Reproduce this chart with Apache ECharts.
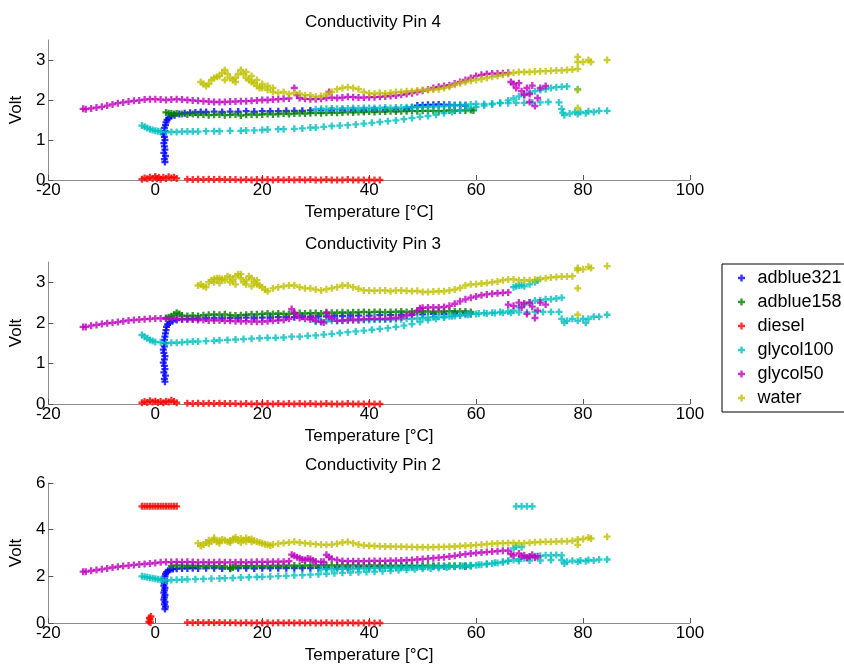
<!DOCTYPE html>
<html>
<head>
<meta charset="utf-8">
<script src="https://cdn.jsdelivr.net/npm/echarts@6/dist/echarts.min.js"></script>
<style>
html,body{margin:0;padding:0;background:#fff;}
#c{width:844px;height:666px;}
</style>
</head>
<body>
<div id="c"></div>
<script>
// ---------- data (temperature °C, volt) ----------
const seriesNames = ['adblue321','adblue158','diesel','glycol100','glycol50','water'];
const titles = ['Conductivity Pin 4','Conductivity Pin 3','Conductivity Pin 2'];
const xTickMin = -20, xTickMax = 100, xTickStep = 20;
const yMaxes = [3.5, 3.5, 6];
const ySteps = [1, 1, 2];

// Pin 4
const pin4_adblue321 = [[1.8,0.45],[1.7,0.52],[1.9,0.6],[1.6,0.68],[1.8,0.76],[1.7,0.84],[1.6,0.92],[1.8,1.0],[1.7,1.08],[1.5,1.15],[1.8,1.22],[1.7,1.3],[1.9,1.37],[2.0,1.44],[2.2,1.5],[2.5,1.55],[3.0,1.6],[3.6,1.62],[4.5,1.65],[5.5,1.67],[6.5,1.68],[7.5,1.69],[8.5,1.7],[9.5,1.7],[11,1.71],[12.5,1.7],[14,1.71],[15.5,1.71],[17,1.72],[18.5,1.71],[20,1.72],[21.5,1.72],[23,1.72],[24.5,1.73],[26,1.73],[27.5,1.73],[29,1.74],[31,1.74],[33,1.74],[35,1.75],[37,1.75],[39,1.75],[41,1.76],[43,1.76],[45,1.77],[47,1.78],[48,1.82],[49,1.86],[50,1.87],[51,1.88],[52,1.88],[53,1.89],[54,1.88],[55,1.88],[56,1.87],[57,1.87],[58,1.86]];
const pin4_adblue158 = [[2,1.69],[2.5,1.67],[3,1.66],[3.5,1.65],[4,1.66],[5,1.65],[6,1.64],[7,1.65],[8,1.63],[9,1.64],[10,1.62],[11,1.63],[12,1.64],[13,1.62],[14,1.63],[15,1.64],[16,1.61],[17,1.63],[18,1.64],[19,1.63],[20,1.64],[21,1.65],[22,1.64],[23,1.65],[24,1.66],[25,1.65],[26,1.66],[27,1.67],[28,1.66],[29,1.67],[30,1.68],[31,1.67],[32,1.68],[33,1.69],[34,1.68],[35,1.69],[36,1.7],[37,1.69],[38,1.7],[39,1.7],[40,1.71],[41,1.7],[42,1.71],[43,1.71],[44,1.72],[45,1.71],[46,1.72],[47,1.72],[48,1.73],[49,1.72],[50,1.73],[51,1.73],[52,1.73],[53,1.72],[54,1.73],[55,1.74],[56,1.73],[57,1.74],[58,1.74],[59,1.75],[59.5,1.74]];
const pin4_diesel = [[-2.5,0.02],[-2,0.05],[-1.5,0.03],[-1,0.07],[-0.5,0.04],[0,0.09],[0.3,0.03],[0.7,0.06],[1,0.02],[1.5,0.07],[2,0.04],[2.5,0.08],[3,0.05],[3.5,0.07],[4,0.04],[6,0.02],[7,0.01],[8,0.02],[9,0.01],[10,0.02],[11,0.01],[12,0.02],[13,0.01],[14,0.01],[15,0.01],[16,0],[17,0.01],[18,0],[19,0.01],[20,0],[21,0.01],[22,0],[23,0.01],[24,0],[25,0.01],[26,0],[27,0.01],[28,0],[29,0.01],[30,0],[31,0],[32,0.01],[33,0],[34,0],[35,0],[36,0.01],[37,0],[38,0],[39,0],[40,0],[41,0],[42,0]];
const pin4_glycol100 = [[-2.5,1.36],[-2,1.33],[-1.5,1.3],[-1,1.27],[-0.5,1.25],[0,1.23],[0.5,1.22],[1,1.21],[2,1.2],[3,1.2],[4,1.2],[5,1.21],[6,1.21],[7,1.21],[8,1.21],[9.5,1.22],[11,1.22],[12,1.22],[14,1.23],[16,1.23],[17,1.24],[18.5,1.24],[20,1.25],[21,1.26],[23,1.27],[24,1.27],[26,1.28],[27.5,1.29],[29,1.31],[30,1.31],[31.5,1.33],[33,1.35],[34.5,1.36],[36,1.37],[37.5,1.39],[39,1.41],[40.5,1.43],[42,1.45],[43.5,1.47],[45,1.49],[46.5,1.52],[48,1.55],[49.5,1.58],[51,1.6],[52.5,1.63],[54,1.67],[55.5,1.7],[57,1.74],[58.5,1.78],[60,1.82],[61.5,1.86],[63,1.89],[64.5,1.93],[66,1.99],[67,2.04],[68,2.09],[69,2.14],[70,2.18],[71,2.22],[72,2.25],[73,2.27],[74,2.3],[75,2.32],[76,2.33],[77,2.34],[79,2.27],
  [30,1.77],[31,1.78],[32,1.78],[33,1.79],[34,1.78],[35,1.79],[36,1.79],[37,1.8],[38,1.79],[39,1.8],[40,1.8],[41,1.8],[42,1.8],[43,1.81],[44,1.8],[45,1.81],[46,1.81],[47,1.82],[48,1.82],[49,1.82],[50,1.83],[51,1.83],[52,1.84],[53,1.84],[54,1.85],[55,1.86],[56,1.87],[57,1.88],[58,1.88],[59,1.89],[60,1.9],[61.5,1.9],[63,1.91],[64.5,1.92],[66,1.92],[67.5,1.93],[69,1.93],[70.5,1.94],[72,1.94],[73.5,1.95],[75.5,1.94],[76,1.78],[76.2,1.68],[76.5,1.62],[77.5,1.66],[78.5,1.7],[79,1.65],[79.5,1.7],[80.5,1.67],[81,1.72],[82,1.7],[83,1.73],[84.5,1.73]];
const pin4_glycol50 = [[-13.5,1.78],[-13,1.77],[-12,1.79],[-11,1.81],[-10,1.83],[-9,1.86],[-8,1.89],[-7,1.92],[-6,1.94],[-5,1.96],[-4,1.98],[-3,1.99],[-2,2.01],[-1,2.02],[0,2.02],[1,2.01],[2,2.0],[3,2.01],[4,2.02],[5,2.01],[6,2.0],[7,1.99],[8,1.98],[9,1.97],[10,1.96],[11,1.95],[12,1.95],[13,1.95],[14,1.96],[15,1.96],[16,1.97],[17,1.97],[18,1.98],[19,1.99],[20,2.0],[21,2.0],[22,2.01],[23,2.02],[24,2.03],[25,2.04],[26,2.3],[26.5,2.12],[27,2.05],[28,2.03],[29,2.02],[30,2.02],[31,2.03],[32,2.05],[32.5,2.2],[33,2.06],[34,2.05],[35,2.06],[36,2.08],[37,2.07],[38,2.06],[39,2.06],[40,2.07],[41,2.07],[42,2.08],[43,2.09],[44,2.1],[45,2.11],[46,2.13],[47,2.15],[48,2.17],[49,2.2],[50,2.23],[51,2.26],[52,2.3],[53,2.33],[54,2.35],[55,2.37],[56,2.41],[57,2.45],[58,2.5],[59,2.55],[60,2.6],[61,2.63],[62,2.65],[63,2.66],[64,2.66],[65,2.67],[66,2.68],[66.5,2.45],[67,2.4],[67.5,2.3],[68,2.42],[68.5,2.22],[69,2.12],[69.5,2.3],[70,1.95],[70,2.15],[70.5,2.36],[71,1.85],[71.5,2.05],[72,2.3],[73,2.35]];
const pin4_water = [[8.5,2.45],[9,2.4],[9.5,2.35],[10,2.4],[10.5,2.5],[11,2.55],[11.5,2.58],[12,2.6],[12.5,2.68],[13,2.75],[13.5,2.65],[14,2.55],[14.5,2.5],[15,2.55],[15.5,2.65],[16,2.75],[16.5,2.65],[17,2.55],[17.5,2.5],[18,2.45],[18.5,2.42],[19,2.35],[19.5,2.3],[20,2.3],[21,2.25],[22,2.2],[23,2.18],[24,2.2],[25,2.15],[26,2.18],[27,2.16],[28,2.12],[29,2.12],[30,2.08],[31,2.1],[32,2.15],[33,2.2],[34,2.27],[35,2.3],[36,2.32],[37,2.3],[38,2.27],[39,2.2],[40,2.17],[41,2.16],[42,2.18],[43,2.16],[44,2.18],[45,2.2],[46,2.2],[47,2.22],[48,2.22],[49,2.24],[50,2.25],[51,2.25],[52,2.26],[53,2.27],[54,2.3],[55,2.33],[56,2.38],[57,2.42],[58,2.45],[59,2.48],[60,2.5],[61,2.52],[62,2.55],[63,2.58],[64,2.6],[65,2.63],[66,2.65],[67,2.68],[68,2.7],[69,2.7],[70,2.7],[71,2.71],[72,2.72],[73,2.72],[74,2.73],[75,2.74],[76,2.74],[77,2.75],[78,2.76],[79,2.78],[79,2.95],[79,3.08],[79,2.25],[79,1.8],[80,2.95],[81,3.0],[81.5,2.95],[84.5,3.0],
  [13,2.5],[15,2.45],[17,2.7],[18,2.6],[19,2.5],[20,2.4],[21,2.35],[22,2.3]];

// Pin 3
const pin3_adblue321 = [[1.8,0.55],[1.7,0.62],[1.9,0.7],[1.6,0.78],[1.8,0.86],[1.7,0.94],[1.5,1.02],[1.7,1.1],[1.8,1.18],[1.6,1.26],[1.5,1.34],[1.7,1.42],[1.8,1.5],[1.7,1.58],[1.8,1.66],[1.9,1.74],[2.0,1.82],[2.1,1.9],[2.3,1.96],[2.7,2.01],[3.2,2.04],[4,2.07],[5,2.09],[6,2.1],[7,2.1],[8,2.11],[9.5,2.11],[11,2.12],[12.5,2.11],[14,2.12],[15.5,2.12],[17,2.13],[18.5,2.12],[20,2.13],[21.5,2.13],[23,2.14],[24.5,2.14],[26,2.14],[27.5,2.15],[29,2.15],[30.5,2.16],[32,2.16],[33.5,2.17],[35,2.17],[36.5,2.18],[38,2.18],[40,2.18],[42,2.19],[44,2.19],[46,2.2],[48,2.2],[50,2.21],[52,2.22],[54,2.22],[56,2.23],[58,2.23],[59,2.22]];
const pin3_adblue158 = [[2,2.12],[2.5,2.14],[3,2.16],[3.5,2.2],[4,2.25],[4.5,2.22],[5,2.18],[6,2.17],[7,2.18],[8,2.17],[9,2.19],[10,2.2],[11,2.21],[12,2.2],[13,2.21],[14,2.19],[15,2.18],[16,2.19],[17,2.2],[18,2.21],[19,2.21],[20,2.22],[21,2.23],[22,2.22],[23,2.23],[24,2.22],[25,2.22],[26,2.23],[27,2.24],[28,2.23],[29,2.24],[30,2.24],[31,2.23],[32,2.24],[33,2.25],[34,2.25],[35,2.26],[36,2.25],[37,2.26],[38,2.26],[39,2.27],[40,2.26],[41,2.27],[42,2.27],[43,2.26],[44,2.27],[45,2.27],[46,2.28],[47,2.27],[48,2.28],[49,2.27],[50,2.28],[51,2.28],[52,2.27],[53,2.28],[54,2.28],[55,2.29],[56,2.28],[57,2.28],[58,2.28],[59,2.27]];
const pin3_diesel = [[-2.5,0.03],[-2,0.06],[-1.5,0.04],[-1,0.08],[-0.5,0.05],[0,0.07],[0.5,0.04],[1,0.06],[1.5,0.03],[2,0.07],[2.5,0.05],[3,0.09],[3.5,0.06],[4,0.03],[6,0.02],[7,0.01],[8,0.02],[9,0.01],[10,0.02],[11,0.01],[12,0.02],[13,0.01],[14,0.01],[15,0.01],[16,0],[17,0.01],[18,0],[19,0.01],[20,0],[21,0.01],[22,0],[23,0.01],[24,0],[25,0.01],[26,0],[27,0.01],[28,0],[29,0.01],[30,0],[31,0],[32,0.01],[33,0],[34,0],[35,0],[36,0.01],[37,0],[38,0],[39,0],[40,0],[41,0],[42,0]];
const pin3_glycol100 = [[-2.5,1.7],[-2,1.66],[-1.5,1.62],[-1,1.58],[-0.5,1.55],[0,1.53],[1,1.52],[2,1.5],[3,1.51],[4,1.51],[5,1.52],[6,1.53],[7,1.54],[8,1.54],[9.5,1.55],[11,1.56],[12,1.57],[13.5,1.58],[15,1.59],[16.5,1.6],[18,1.61],[19.5,1.62],[21,1.63],[22.5,1.63],[24,1.64],[25.5,1.66],[27,1.66],[28.5,1.68],[30,1.69],[31.5,1.71],[33,1.73],[34.5,1.75],[36,1.77],[37.5,1.79],[39,1.81],[40.5,1.83],[42,1.85],[43.5,1.87],[45,1.9],[46.5,1.93],[48,1.97],[49.5,2.02],[51,2.07],[52.5,2.1],[54,2.13],[55.5,2.16],[57,2.18],[58.5,2.2],[60,2.22],[61.5,2.24],[63,2.25],[64.5,2.27],[66,2.28],[67,2.3],[68,2.38],[69,2.45],[70,2.5],[71,2.55],[72,2.56],[73,2.58],[74,2.58],[75,2.6],[76,2.62],
  [30,2.03],[31,2.04],[32,2.04],[33,2.05],[34,2.05],[35,2.05],[36,2.06],[37,2.06],[38,2.06],[39,2.07],[40,2.07],[41,2.08],[42,2.08],[43,2.08],[44,2.08],[45,2.09],[46,2.09],[47,2.1],[48,2.1],[49,2.11],[50,2.12],[51,2.13],[52,2.14],[53,2.15],[54,2.15],[55,2.16],[56,2.17],[57,2.19],[58,2.2],[59,2.22],[60.5,2.23],[62,2.23],[63.5,2.24],[65,2.25],[66.5,2.25],[68,2.26],[69.5,2.26],[71,2.27],[72.5,2.27],[74,2.27],[75.5,2.27],[76,2.1],[76.5,2.0],[77,2.05],[78,2.1],[79,2.05],[80,2.1],[80.5,2.0],[81,2.1],[82,2.15],[83,2.15],[84.5,2.2],
  [67,2.88],[67.5,2.9],[68,2.92],[68.5,2.93],[69,2.9],[70,2.95],[71,3.0],[71.5,3.05]];
const pin3_glycol50 = [[-13.5,1.9],[-13,1.9],[-12,1.93],[-11,1.95],[-10,1.97],[-9,1.99],[-8,2.0],[-7,2.02],[-6,2.04],[-5,2.06],[-4,2.07],[-3,2.08],[-2,2.09],[-1,2.1],[0,2.11],[1,2.11],[2,2.1],[3,2.1],[4,2.1],[5,2.09],[6,2.08],[7,2.08],[8,2.07],[9,2.07],[10,2.06],[11,2.06],[12,2.06],[13,2.05],[14,2.05],[15,2.04],[16,2.04],[17,2.04],[18,2.03],[19,2.03],[20,2.03],[21,2.04],[22,2.05],[23,2.06],[24,2.07],[25,2.1],[25.5,2.34],[26,2.25],[26.5,2.18],[27,2.12],[28,2.1],[29,2.08],[29.5,2.12],[30,2.05],[31,2.02],[31.5,2.01],[32,2.26],[32.5,2.15],[33,2.1],[34,2.05],[35,2.06],[36,2.07],[37,2.08],[38,2.08],[39,2.09],[40,2.1],[41,2.1],[42,2.1],[43,2.1],[44,2.11],[45,2.12],[46,2.14],[47,2.18],[48,2.22],[49,2.3],[49.5,2.36],[50,2.37],[51,2.38],[52,2.38],[53,2.38],[54,2.39],[55,2.42],[56,2.47],[57,2.53],[58,2.58],[59,2.62],[60,2.65],[61,2.68],[62,2.7],[63,2.72],[64,2.73],[65,2.74],[66,2.75],[66,2.45],[67,2.42],[68,2.5],[68.5,2.38],[69,2.48],[69.5,2.22],[70,2.5],[70.5,2.4],[71,2.12],[71.5,2.3],[72,2.5],[73,2.45]];
const pin3_water = [[8,2.92],[8.5,2.95],[9,2.9],[9.5,2.88],[10,3.0],[10.5,3.05],[11,3.08],[11.5,3.1],[12,3.1],[12.5,3.08],[13,3.05],[13.5,3.15],[14,3.12],[14.5,3.05],[15,3.15],[15.5,3.2],[16,3.1],[16.5,3.0],[17,3.05],[17.5,3.15],[18,3.1],[18.5,3.0],[19,2.95],[19.5,2.92],[20,2.88],[20.5,2.82],[21,2.78],[22,2.85],[23,2.88],[24,2.9],[25,2.92],[26,2.92],[27,2.88],[28,2.85],[29,2.85],[30,2.82],[31,2.8],[32,2.83],[33,2.85],[34,2.88],[35,2.92],[36,2.92],[37,2.88],[38,2.84],[39,2.8],[40,2.8],[41,2.79],[42,2.8],[43,2.8],[44,2.78],[45,2.8],[46,2.8],[47,2.79],[48,2.78],[49,2.79],[50,2.76],[51,2.76],[52,2.77],[53,2.78],[54,2.78],[55,2.8],[56,2.82],[57,2.86],[58,2.92],[59,2.95],[60,2.95],[61,2.97],[62,2.98],[63,3.0],[64,3.02],[65,3.05],[66,3.07],[67,3.07],[68,3.05],[69,3.05],[70,3.05],[71,3.06],[72,3.08],[73,3.1],[74,3.12],[75,3.13],[76,3.14],[77,3.14],[78,3.15],[79,3.3],[79,3.35],[79,2.85],[79,2.2],[80,3.32],[81,3.38],[81.5,3.35],[84.5,3.4],
  [11,3.0],[12,2.98],[14,3.0],[15,2.95],[16,3.2],[17,2.95],[18,2.9],[19,3.05]];

// Pin 2
const pin2_adblue321 = [[1.8,0.6],[1.9,0.7],[1.7,0.8],[1.8,0.9],[1.6,1.0],[1.7,1.1],[1.8,1.2],[1.6,1.3],[1.7,1.4],[1.8,1.5],[1.6,1.6],[1.7,1.7],[1.8,1.8],[1.7,1.9],[1.8,2.0],[1.9,2.1],[2.1,2.18],[2.4,2.24],[2.8,2.28],[3.3,2.31],[4,2.33],[5,2.34],[6,2.34],[7,2.35],[8,2.34],[9.5,2.35],[11,2.35],[12.5,2.34],[14,2.35],[15.5,2.35],[17,2.35],[18.5,2.34],[20,2.35],[21.5,2.35],[23,2.35],[24.5,2.35],[26,2.35],[27.5,2.35],[29,2.35],[30.5,2.36],[32,2.37],[34,2.38],[36,2.38],[38,2.39],[40,2.39],[42,2.4],[44,2.4],[46,2.41],[48,2.41],[50,2.42],[52,2.42],[54,2.42],[56,2.43],[58,2.43]];
const pin2_adblue158 = [[3,2.45],[4,2.47],[5,2.46],[6,2.45],[7,2.46],[8,2.45],[9,2.44],[10,2.45],[11,2.44],[12,2.43],[13,2.42],[14,2.32],[14.5,2.38],[15,2.43],[16,2.45],[17,2.44],[18,2.45],[19,2.44],[20,2.45],[21,2.44],[22,2.45],[23,2.46],[24,2.45],[25,2.46],[26,2.46],[27,2.45],[28,2.46],[29,2.47],[30,2.46],[31,2.47],[32,2.46],[33,2.47],[34,2.46],[35,2.47],[36,2.46],[37,2.47],[38,2.46],[39,2.46],[40,2.47],[41,2.46],[42,2.46],[43,2.46],[44,2.45],[45,2.46],[46,2.45],[47,2.46],[48,2.45],[49,2.45],[50,2.45],[51,2.46],[52,2.45],[53,2.45],[54,2.44],[55,2.45],[56,2.44],[57,2.45],[58,2.44],[59,2.44]];
const pin2_diesel = [[-2.5,5.0],[-2,5.0],[-1.5,5.0],[-1,5.0],[-0.5,5.0],[0,5.0],[0.5,5.0],[1,5.0],[1.5,5.0],[2,5.0],[2.5,5.0],[3,5.0],[3.5,5.0],[4,5.0],[-1.2,0.05],[-1,0.15],[-0.8,0.28],[-1.1,0.22],[-0.9,0.02],[6,0.02],[7,0.01],[8,0.02],[9,0.01],[10,0.02],[11,0.01],[12,0.02],[13,0.01],[14,0.01],[15,0.01],[16,0],[17,0.01],[18,0],[19,0.01],[20,0],[21,0.01],[22,0],[23,0.01],[24,0],[25,0.01],[26,0],[27,0.01],[28,0],[29,0.01],[30,0],[31,0],[32,0.01],[33,0],[34,0],[35,0],[36,0.01],[37,0],[38,0],[39,0],[40,0],[41,0],[42,0]];
const pin2_glycol100 = [[-2.5,2.0],[-2,1.98],[-1.5,1.96],[-1,1.94],[-0.5,1.92],[0,1.9],[0.5,1.87],[1,1.85],[1.5,1.83],[2,1.82],[3,1.84],[4,1.85],[5,1.86],[6,1.87],[7.5,1.88],[9,1.89],[10.5,1.9],[12,1.91],[13,1.92],[14.5,1.93],[16,1.95],[17.5,1.96],[19,1.97],[20,1.98],[21.5,1.99],[23,2.01],[24.5,2.02],[26,2.04],[27.5,2.05],[29,2.07],[30.5,2.09],[32,2.11],[33.5,2.13],[35,2.15],[36.5,2.16],[38,2.17],[39.5,2.19],[41,2.2],[42.5,2.22],[44,2.24],[45.5,2.26],[47,2.28],[48.5,2.3],[50,2.32],[51.5,2.34],[53,2.36],[54.5,2.38],[56,2.41],[57.5,2.44],[59,2.47],[60.5,2.5],[62,2.54],[63.5,2.58],[65,2.62],[66,2.66],[67,2.7],[68,2.74],[69,2.78],[70,2.82],[71,2.86],[72,2.88],[73,2.9],[74,2.9],[75,2.91],[76,2.9],[76.5,2.55],[77,2.62],[78,2.67],[79,2.62],[79.5,2.68],[80.5,2.65],[81,2.7],[82,2.68],[83,2.72],[84.5,2.72],
  [31,2.3],[32,2.31],[33,2.31],[34,2.32],[35,2.32],[36,2.33],[37,2.33],[38,2.34],[39,2.34],[40,2.35],[41,2.35],[42,2.36],[43,2.36],[44,2.37],[45,2.37],[46,2.38],[47,2.38],[48,2.39],[49,2.39],[50,2.4],[51,2.4],[52,2.41],[53,2.41],[54,2.42],[55,2.42],[56,2.43],[57,2.44],[58,2.45],[59,2.46],[60,2.48],[61,2.5],[62,2.52],[63,2.55],[64,2.57],[65,2.6],[66,2.66],[68,2.66],[70,2.68],[72,2.68],[74,2.7],[76,2.7],
  [67,3.2],[67.5,3.28],[68.5,3.25],[67.5,5.0],[68.5,5.0],[69.5,5.0],[70.5,5.0]];
const pin2_glycol50 = [[-13.5,2.2],[-13,2.2],[-12,2.24],[-11,2.27],[-10,2.3],[-9,2.34],[-8,2.38],[-7,2.41],[-6,2.44],[-5,2.46],[-4,2.49],[-3,2.51],[-2,2.53],[-1,2.55],[0,2.57],[1,2.6],[2,2.61],[3,2.61],[4,2.62],[5,2.61],[6,2.62],[7,2.61],[8,2.6],[9,2.61],[10,2.6],[11,2.6],[12,2.61],[13,2.6],[14,2.6],[15,2.6],[16,2.61],[17,2.6],[18,2.61],[19,2.62],[20,2.62],[21,2.62],[22,2.63],[23,2.63],[24,2.63],[25,2.65],[25.5,2.93],[26,2.88],[26.5,2.82],[27,2.78],[27.5,2.72],[28,2.7],[28.5,2.76],[29,2.74],[29.5,2.68],[30,2.64],[31,2.62],[31.5,2.62],[32,2.92],[32.5,2.82],[33,2.75],[34,2.7],[35,2.66],[36,2.65],[37,2.65],[38,2.65],[39,2.65],[40,2.66],[41,2.66],[42,2.66],[43,2.66],[44,2.67],[45,2.67],[46,2.68],[47,2.69],[48,2.7],[49,2.72],[50,2.74],[51,2.76],[52,2.78],[53,2.8],[54,2.82],[55,2.85],[56,2.88],[57,2.92],[58,2.95],[59,2.98],[60,3.0],[61,3.02],[62,3.04],[63,3.06],[64,3.08],[65,3.1],[66,3.1],[66.5,2.95],[67,2.9],[68,2.98],[68.5,2.85],[69,2.9],[69.5,2.8],[70,2.85],[70.5,2.92],[71,2.8],[71.5,2.86]];
const pin2_water = [[8,3.42],[8.5,3.3],[9,3.36],[9.5,3.45],[10,3.55],[10.5,3.5],[11,3.56],[11.5,3.48],[12,3.52],[12.5,3.58],[13,3.55],[13.5,3.48],[14,3.54],[14.5,3.6],[15,3.58],[15.5,3.52],[16,3.62],[16.5,3.56],[17,3.64],[17.5,3.58],[18,3.6],[18.5,3.52],[19,3.48],[19.5,3.45],[20,3.42],[20.5,3.38],[21,3.35],[21.5,3.32],[22,3.36],[23,3.4],[24,3.43],[25,3.45],[26,3.48],[27,3.45],[28,3.42],[29,3.4],[30,3.38],[31,3.36],[32,3.35],[33,3.36],[34,3.4],[35,3.45],[36,3.48],[37,3.42],[38,3.36],[39,3.33],[40,3.31],[41,3.3],[42,3.29],[43,3.28],[44,3.28],[45,3.27],[46,3.27],[47,3.26],[48,3.26],[49,3.25],[50,3.25],[51,3.25],[52,3.25],[53,3.26],[54,3.26],[55,3.27],[56,3.28],[57,3.3],[58,3.31],[59,3.32],[60,3.34],[61,3.36],[62,3.38],[63,3.4],[64,3.41],[65,3.42],[66,3.43],[67,3.43],[68,3.42],[69,3.42],[70,3.44],[71,3.46],[72,3.47],[73,3.48],[74,3.48],[75,3.49],[76,3.5],[77,3.5],[78,3.52],[79,3.58],[79,3.35],[80,3.6],[81,3.66],[81.5,3.62],[84.5,3.7],
  [10,3.4],[12,3.42],[14,3.45],[16,3.45],[18,3.48],[11,3.65],[15,3.68],[17,3.5]];

// ---------- chart ----------
const panels = [
  [pin4_adblue321, pin4_adblue158, pin4_diesel, pin4_glycol100, pin4_glycol50, pin4_water],
  [pin3_adblue321, pin3_adblue158, pin3_diesel, pin3_glycol100, pin3_glycol50, pin3_water],
  [pin2_adblue321, pin2_adblue158, pin2_diesel, pin2_glycol100, pin2_glycol50, pin2_water]
];
const colors = ['#0000ff', '#008000', '#ff0000', '#00bfbf', '#bf00bf', '#bfbf00'];
const plusPath = 'path://M2,0H4V2H6V4H4V6H2V4H0V2H2Z';
const FONT = '"Liberation Sans", Arial, Helvetica, sans-serif';

const gridDefs = [
  {left: 46, right: 154, top: 40, height: 140},
  {left: 46, right: 154, top: 262, height: 142},
  {left: 46, right: 154, top: 483, height: 140}
];
const titleTops = [9, 231, 452];

const option = {
  animation: false,
  backgroundColor: '#ffffff',
  textStyle: {fontFamily: FONT},
  title: titles.map((t, i) => ({
    text: t, left: 368, top: titleTops[i], textAlign: 'center',
    textStyle: {fontFamily: FONT, fontSize: 17, fontWeight: 'normal', color: '#000'}
  })),
  legend: {
    orient: 'vertical', left: 722, top: 264,
    data: seriesNames.map(n => ({name: n, icon: plusPath})),
    itemWidth: 22, itemHeight: 7, itemGap: 0,
    padding: [2, 14, 2, 16],
    borderColor: '#000', borderWidth: 1, borderRadius: 0,
    textStyle: {fontFamily: FONT, fontSize: 18, color: '#000', lineHeight: 24},
    selectedMode: false
  },
  grid: gridDefs,
  xAxis: gridDefs.map((g, i) => ({
    type: 'value', gridIndex: i, min: xTickMin, max: xTickMax, interval: xTickStep,
    name: 'Temperature [°C]', nameLocation: 'middle', nameGap: 24,
    nameTextStyle: {fontFamily: FONT, fontSize: 17, color: '#000'},
    axisLine: {show: true, onZero: false, lineStyle: {color: '#8c8c8c', width: 1}},
    axisTick: {show: true, inside: true, length: 5, lineStyle: {color: '#555'}},
    axisLabel: {fontFamily: FONT, fontSize: 17, color: '#000', margin: 2},
    splitLine: {show: false}
  })),
  yAxis: gridDefs.map((g, i) => ({
    type: 'value', gridIndex: i, min: 0, max: yMaxes[i], interval: ySteps[i],
    name: 'Volt', nameLocation: 'middle', nameGap: 19,
    nameTextStyle: {fontFamily: FONT, fontSize: 17, color: '#000'},
    axisLine: {show: true, onZero: false, lineStyle: {color: '#8c8c8c', width: 1}},
    axisTick: {show: true, inside: true, length: 5, lineStyle: {color: '#555'}},
    axisLabel: {fontFamily: FONT, fontSize: 17, color: '#000', margin: 3, showMaxLabel: yMaxes[i] % ySteps[i] === 0},
    splitLine: {show: false}
  })),
  series: []
};

panels.forEach((arrs, gi) => {
  arrs.forEach((data, si) => {
    option.series.push({
      type: 'scatter', name: seriesNames[si], xAxisIndex: gi, yAxisIndex: gi,
      data: data, symbol: plusPath, symbolSize: 7,
      itemStyle: {color: colors[si], opacity: 0.8},
      emphasis: {disabled: true}, silent: true
    });
  });
});

const chart = echarts.init(document.getElementById('c'), null, {renderer: 'canvas'});
chart.setOption(option);
</script>
</body>
</html>
